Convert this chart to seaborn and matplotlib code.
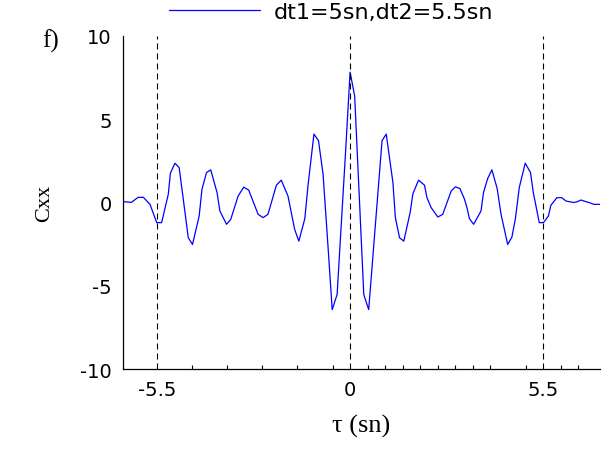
import matplotlib
matplotlib.use("Agg")
import matplotlib.pyplot as plt
import seaborn as sns

# lag values (s) and correlation
tau = [-6.46, -6.23, -6.04, -5.89, -5.70, -5.51, -5.37, -5.18, -5.12, -4.99,
       -4.87, -4.61, -4.49, -4.30, -4.22, -4.09, -3.97, -3.79, -3.71, -3.52,
       -3.40, -3.19, -3.03, -2.89, -2.62, -2.48, -2.34, -2.10, -1.96, -1.77,
       -1.58, -1.46, -1.29, -1.20, -1.03, -0.90, -0.77, -0.63, -0.51, -0.37,
       -0.13, 0.00, 0.13, 0.39, 0.53, 0.91, 1.03, 1.22, 1.29, 1.41,
       1.53, 1.71, 1.79, 1.95, 2.12, 2.19, 2.31, 2.50, 2.64, 2.88,
       3.00, 3.13, 3.26, 3.33, 3.40, 3.52, 3.73, 3.80, 3.92, 4.04,
       4.19, 4.30, 4.49, 4.61, 4.71, 4.82, 4.99, 5.14, 5.22, 5.39,
       5.51, 5.65, 5.72, 5.89, 6.03, 6.15, 6.37, 6.48, 6.58, 6.72,
       6.81, 6.94, 7.12]
cxx = [0.05, 0.01, 0.31, 0.31, -0.11, -1.21, -1.21, 0.49, 1.76, 2.36,
       2.10, -2.12, -2.52, -0.81, 0.80, 1.80, 1.96, 0.59, -0.51, -1.31,
       -1.01, 0.39, 0.92, 0.75, -0.71, -0.91, -0.71, 1.04, 1.34, 0.39,
       -1.61, -2.32, -0.97, 1.00, 4.11, 3.71, 1.70, -2.62, -6.43, -5.53,
       3.0, 7.83, 6.4, -5.53, -6.43, 3.71, 4.11, 1.20, -0.91, -2.12,
       -2.32, -0.61, 0.53, 1.34, 1.04, 0.29, -0.31, -0.87, -0.71, 0.69,
       0.94, 0.84, 0.19, -0.31, -0.97, -1.31, -0.51, 0.59, 1.44, 1.96,
       0.84, -0.71, -2.52, -2.08, -0.97, 0.90, 2.36, 1.80, 0.59, -1.21,
       -1.21, -0.81, -0.17, 0.29, 0.29, 0.09, 0.0, 0.05, 0.15, 0.05,
       0.0, -0.11, -0.11]

vlines = [-5.5, 0, 5.5]
xticks = [-5.5, 0, 5.5]
xminor = [-4.5, -3.5, -2.5, -1.5, -0.5, 0.5, 1, 1.5, 2, 2.5, 3, 3.5, 4, 5, 6, 6.5]
yticks = [-10, -5, 0, 5, 10]
legend_label = "dt1=5sn,dt2=5.5sn"

sns.set_style("white")
plt.rcParams['font.family'] = ['DejaVu Sans']
plt.rcParams['axes.unicode_minus'] = False
plt.rcParams['text.color'] = 'k'
plt.rcParams['axes.labelcolor'] = 'k'
plt.rcParams['xtick.color'] = 'k'
plt.rcParams['ytick.color'] = 'k'

fig = plt.figure(figsize=(6.13, 4.52), dpi=100)
ax = fig.add_axes([123 / 613, 1 - 370 / 452, 477 / 613, 333 / 452])

sns.lineplot(x=tau, y=cxx, sort=False, estimator=None, color='#0000ff',
             linewidth=0.9, label=legend_label, ax=ax)

for v in vlines:
    ax.axvline(v, color='k', linewidth=0.8, linestyle=(0, (5.4, 3.6)))

ax.set_xlim(-6.47, 7.12)
ax.set_ylim(-10, 10)
ax.set_xticks(xticks)
ax.set_xticklabels(['-5.5', '0', '5.5'])
ax.set_xticks(xminor, minor=True)
ax.set_yticks(yticks)

for side in ['top', 'right']:
    ax.spines[side].set_visible(False)
for side in ['left', 'bottom']:
    ax.spines[side].set_color('k')
    ax.spines[side].set_linewidth(0.9)

ax.tick_params(axis='both', which='major', direction='in', length=4,
               width=0.8, labelsize=14, colors='k', pad=8)
ax.tick_params(axis='x', which='minor', direction='in', length=3,
               width=0.8, color='k', bottom=True)
ax.tick_params(axis='x', which='major', length=0)

ax.set_xlabel('τ (sn)', family=['Liberation Serif', 'DejaVu Serif'],
              fontsize=19, labelpad=11, color='k')
ax.set_ylabel('Cxx', family=['Liberation Serif', 'DejaVu Serif'],
              fontsize=16, labelpad=19, color='k')

fig.text(51 / 613, 1 - 41 / 452, 'f)', family=['Liberation Serif'],
         fontsize=18, ha='center', va='center', color='k')

leg = ax.legend(loc='center', bbox_to_anchor=(331 / 613, 1 - 13 / 452),
                bbox_transform=fig.transFigure, frameon=False, fontsize=16,
                handlelength=4.1, handletextpad=0.6, borderpad=0,
                borderaxespad=0)
for t in leg.get_texts():
    t.set_color('k')

fig.savefig('out.png', dpi=100)
plt.close(fig)
